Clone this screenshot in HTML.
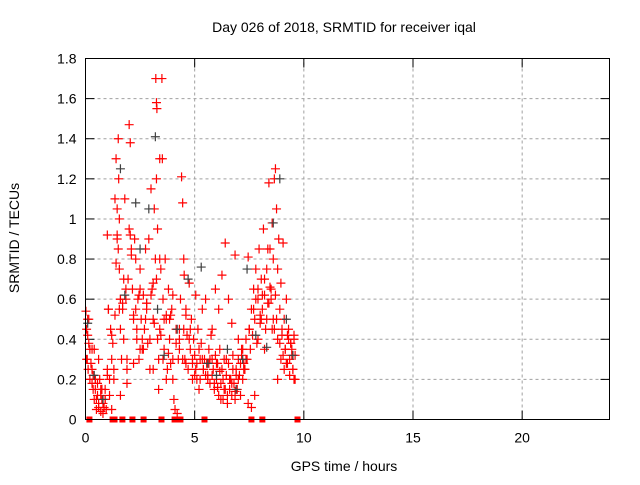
<!DOCTYPE html>
<html><head><meta charset="utf-8"><style>
body{margin:0;background:#fff;}
svg text{font-family:"Liberation Sans",sans-serif;font-size:14px;fill:#000;}
</style></head><body>
<svg id="chart" width="640" height="480" viewBox="0 0 640 480" xmlns="http://www.w3.org/2000/svg">
<rect width="640" height="480" fill="#fff"/>
<text x="344" y="32" text-anchor="middle">Day 026 of 2018, SRMTID for receiver iqal</text>
<text x="344" y="471" text-anchor="middle">GPS time / hours</text>
<text transform="translate(19,238) rotate(-90)" text-anchor="middle">SRMTID / TECUs</text>
<g id="grid"></g>
<g id="ticks"></g>
<g id="marks"></g>
<rect x="85.5" y="58.5" width="524" height="361" fill="none" stroke="#000"/>
</svg>
<script>
const xTicks=[0,5,10,15,20];
const yTicks=[0,0.2,0.4,0.6,0.8,1,1.2,1.4,1.6,1.8];
const yTickLabels=["0","0.2","0.4","0.6","0.8","1","1.2","1.4","1.6","1.8"];
const redHours="0.02 0.05 0.08 0.1 0.12 0.15 0.2 0.25 0.3 0.35 0.4 0.45 0.5 0.55 0.6 0.65 0.7 0.75 0.8 0.85 0.9 0.95 1.0 1.05 1.1 1.15 1.2 1.25 1.3 1.35 1.4 1.45 1.5 1.5 1.52 1.55 1.55 1.6 1.6 1.65 1.7 1.75 1.8 1.85 1.9 1.95 2.0 2.0 2.05 2.1 2.15 2.2 2.25 2.3 2.35 2.4 2.45 2.5 2.55 2.6 2.65 2.7 2.75 2.8 2.85 2.9 2.95 3.0 3.05 3.1 3.15 3.2 3.22 3.25 3.25 3.27 3.3 3.3 3.35 3.4 3.45 3.5 3.52 3.55 3.6 3.65 3.7 3.75 3.8 3.85 3.9 3.95 4.0 4.05 4.1 4.15 4.2 4.25 4.3 4.35 4.4 4.45 4.5 4.5 4.52 4.55 4.6 4.65 4.7 4.75 4.8 4.85 4.9 4.95 5.0 5.05 5.1 5.15 5.2 5.25 5.3 5.35 5.4 5.45 5.5 5.55 5.6 5.65 5.7 5.75 5.8 5.85 5.9 5.95 6.0 6.05 6.1 6.15 6.2 6.25 6.3 6.35 6.4 6.45 6.5 6.55 6.6 6.65 6.7 6.75 6.8 6.85 6.9 6.95 7.0 7.05 7.1 7.15 7.2 7.25 7.3 7.35 7.4 7.45 7.5 7.55 7.6 7.65 7.7 7.75 7.8 7.85 7.9 7.95 8.0 8.05 8.1 8.15 8.2 8.25 8.3 8.35 8.4 8.45 8.5 8.55 8.6 8.65 8.7 8.75 8.8 8.85 8.9 8.95 9.0 9.05 9.1 9.15 9.2 9.25 9.3 9.35 9.4 9.45 9.5 9.55 9.6 0.05 0.15 0.3 0.45 0.6 0.75 0.9 1.05 1.2 1.35 1.45 1.6 1.75 1.9 2.05 2.2 2.35 2.5 2.65 2.8 2.95 3.1 3.25 3.4 3.55 3.7 3.85 4.0 4.15 4.3 4.45 4.6 4.75 4.9 5.05 5.2 5.35 5.5 5.65 5.8 5.95 6.1 6.25 6.4 6.55 6.7 6.85 7.0 7.15 7.3 7.45 7.6 7.75 7.9 8.05 8.2 8.35 8.5 8.65 8.8 8.95 9.1 9.25 9.4 9.55 0.1 0.4 0.7 1.0 1.3 1.6 1.9 2.2 2.5 2.8 3.1 3.4 3.7 4.0 4.3 4.6 4.9 5.2 5.5 5.8 6.1 6.4 6.7 7.0 7.3 7.6 7.9 8.2 8.5 8.8 9.1 9.4".split(" ").map(Number);
const redValues="0.54 0.45 0.3 0.42 0.25 0.38 0.2 0.28 0.18 0.22 0.1 0.15 0.05 0.12 0.08 0.2 0.04 0.1 0.03 0.06 0.15 0.05 0.92 0.55 0.2 0.45 0.05 0.38 0.25 0.52 1.3 1.05 1.4 0.85 1.2 1.0 0.75 0.6 0.45 0.3 0.55 0.4 1.1 0.6 0.25 0.7 1.47 0.95 1.38 0.85 0.65 0.5 0.9 0.8 0.45 0.6 0.3 0.75 0.5 0.35 0.62 0.45 0.85 0.58 0.38 0.9 0.25 1.15 0.65 0.5 1.05 0.8 1.7 1.58 1.2 1.55 0.95 0.4 0.15 1.3 0.75 1.7 1.3 0.6 0.35 0.8 0.5 0.25 0.65 0.4 0.28 0.55 0.2 0.1 0.05 0.45 0.03 0.3 0.35 0.6 1.21 1.08 0.8 0.45 0.72 0.3 0.55 0.42 0.25 0.68 0.35 0.5 0.3 0.4 0.22 0.62 0.28 0.45 0.35 0.2 0.38 0.55 0.25 0.3 0.6 0.28 0.22 0.35 0.18 0.42 0.3 0.25 0.15 0.32 0.2 0.28 0.12 0.35 0.18 0.25 0.1 0.3 0.15 0.22 0.08 0.28 0.15 0.2 0.12 0.32 0.18 0.1 0.25 0.15 0.3 0.22 0.12 0.35 0.2 0.28 0.25 0.4 0.3 0.81 0.45 0.35 0.55 0.42 0.65 0.5 0.75 0.38 0.6 0.85 0.48 0.7 0.55 0.95 0.62 0.45 0.75 0.58 1.18 0.85 0.65 0.98 0.5 1.2 1.25 1.05 0.75 0.9 0.55 0.68 0.42 0.88 0.5 0.35 0.6 0.28 0.45 0.22 0.38 0.32 0.25 0.42 0.2 0.3 0.5 0.35 0.2 0.3 0.15 0.1 0.55 0.3 1.1 0.9 0.6 0.7 0.3 0.92 0.52 0.4 0.65 0.35 0.55 0.4 0.25 0.7 0.45 0.3 0.2 0.5 0.62 0.38 0.45 0.3 0.28 0.4 0.2 0.25 0.15 0.3 0.22 0.28 0.45 0.65 0.55 0.72 0.88 0.6 0.48 0.82 0.4 0.32 0.25 0.08 0.06 0.12 0.4 0.5 0.35 0.85 0.6 0.45 0.2 0.3 0.25 0.42 0.38 0.2 0.5 0.35 0.15 0.25 0.2 0.12 0.18 0.28 0.35 0.58 0.68 0.8 0.52 0.3".split(" ").map(Number);
const extraHours="0.2 0.3 0.35 0.45 0.5 0.55 0.6 0.7 0.75 0.8 0.9 1.0 1.1 1.2 1.4 1.45 1.55 1.7 1.85 2.1 2.3 2.45 2.6 2.75 3.0 3.15 3.35 3.45 3.6 3.8 3.9 4.3 4.6 4.8 4.9 5.0 5.1 5.25 5.4 5.6 5.7 5.8 5.9 6.0 6.05 6.15 6.2 6.3 6.35 6.45 6.5 6.6 6.7 6.75 6.85 6.9 7.0 7.1 7.2 7.25 7.35 7.5 7.7 7.8 7.9 8.0 8.1 8.2 8.3 8.4 8.45 8.55 8.6 8.7 8.75 8.8 8.9 9.0 9.05 9.15 9.2 9.3 9.35 9.45 9.5 9.55 9.6".split(" ").map(Number);
const extraValues="0.35 0.25 0.15 0.2 0.1 0.18 0.06 0.12 0.15 0.08 0.1 0.22 0.12 0.42 0.78 0.92 0.55 0.58 0.65 0.82 0.55 0.62 0.4 0.5 0.62 0.48 0.3 0.42 0.5 0.33 0.52 0.4 0.52 0.45 0.28 0.32 0.2 0.3 0.25 0.2 0.3 0.22 0.18 0.28 0.16 0.24 0.1 0.2 0.15 0.3 0.12 0.2 0.18 0.25 0.14 0.22 0.2 0.28 0.35 0.25 0.3 0.45 0.55 0.6 0.65 0.52 0.62 0.7 0.5 0.58 0.66 0.45 0.8 0.62 0.5 0.4 0.38 0.45 0.32 0.35 0.28 0.4 0.3 0.35 0.25 0.4 0.32".split(" ").map(Number);
const grayHours=[0.1,0.4,0.8,1.6,1.8,2.3,2.5,2.9,3.2,3.3,3.6,4.2,4.7,5.3,5.6,6.0,6.5,6.9,7.2,7.4,7.8,8.3,8.6,8.9,9.2,9.5];
const grayValues=[0.48,0.22,0.1,1.25,0.62,1.08,0.85,1.05,1.41,0.55,0.32,0.45,0.7,0.76,0.28,0.22,0.35,0.15,0.3,0.75,0.42,0.36,0.98,1.2,0.5,0.32];
const zeroHours=[0.18,1.24,1.33,1.69,2.15,2.66,3.48,4.08,4.35,5.45,7.6,8.1,9.71];

const X0=85.5,X1=609.5,Y0=419.5,Y1=58.5;
function xs(h){return X0+(h/24)*(X1-X0);}
function ys(v){return Y0-(v/1.8)*(Y0-Y1);}
const NS="http://www.w3.org/2000/svg";
const grid=document.getElementById('grid'),ticks=document.getElementById('ticks'),marks=document.getElementById('marks');
function mk(t,a,p){const e=document.createElementNS(NS,t);for(const k in a)e.setAttribute(k,a[k]);p.appendChild(e);return e;}
yTicks.forEach((v,i)=>{
  const y=ys(v);
  if(i>0&&i<yTicks.length-1){const g=mk('line',{x1:X0,x2:X1,y1:y,y2:y,stroke:'#a0a0a0','stroke-dasharray':'3,3'},grid);
  
  }
  mk('line',{x1:X0,x2:X0+9,y1:y,y2:y,stroke:'#000'},ticks);
  mk('line',{x1:X1,x2:X1-9,y1:y,y2:y,stroke:'#000'},ticks);
  const t=mk('text',{x:X0-9,y:y+5,'text-anchor':'end'},ticks);t.textContent=yTickLabels[i];
  
  
});
xTicks.forEach(h=>{
  const x=xs(h);
  if(h>0){const g=mk('line',{x1:x,x2:x,y1:Y0,y2:Y1,stroke:'#a0a0a0','stroke-dasharray':'3,3'},grid);
  
  }
  mk('line',{x1:x,x2:x,y1:Y0,y2:Y0-9,stroke:'#000'},ticks);
  mk('line',{x1:x,x2:x,y1:Y1,y2:Y1+9,stroke:'#000'},ticks);
  const t=mk('text',{x:x,y:Y0+23,'text-anchor':'middle'},ticks);t.textContent=String(h);
  
  
});
function plus(h,v,c,name){
  const x=xs(h),y=ys(v);
  const p=mk('path',{d:`M${x-4.5} ${y}H${x+4.5}M${x} ${y-4.5}V${y+4.5}`,stroke:c,'stroke-width':1.2},marks);
  
  
}
redHours.forEach((h,i)=>{if(redValues[i]!==undefined)plus(h,redValues[i],'#ff0000','red-point');});
extraHours.forEach((h,i)=>{if(extraValues[i]!==undefined)plus(h,extraValues[i],'#ff0000','red-point');});
grayHours.forEach((h,i)=>plus(h,grayValues[i],'#404040','gray-point'));
zeroHours.forEach(h=>{
  const r=mk('rect',{x:xs(h)-3,y:Y0-3,width:6,height:6,fill:'#ff0000'},marks);
  
  
});
</script>
</body></html>
